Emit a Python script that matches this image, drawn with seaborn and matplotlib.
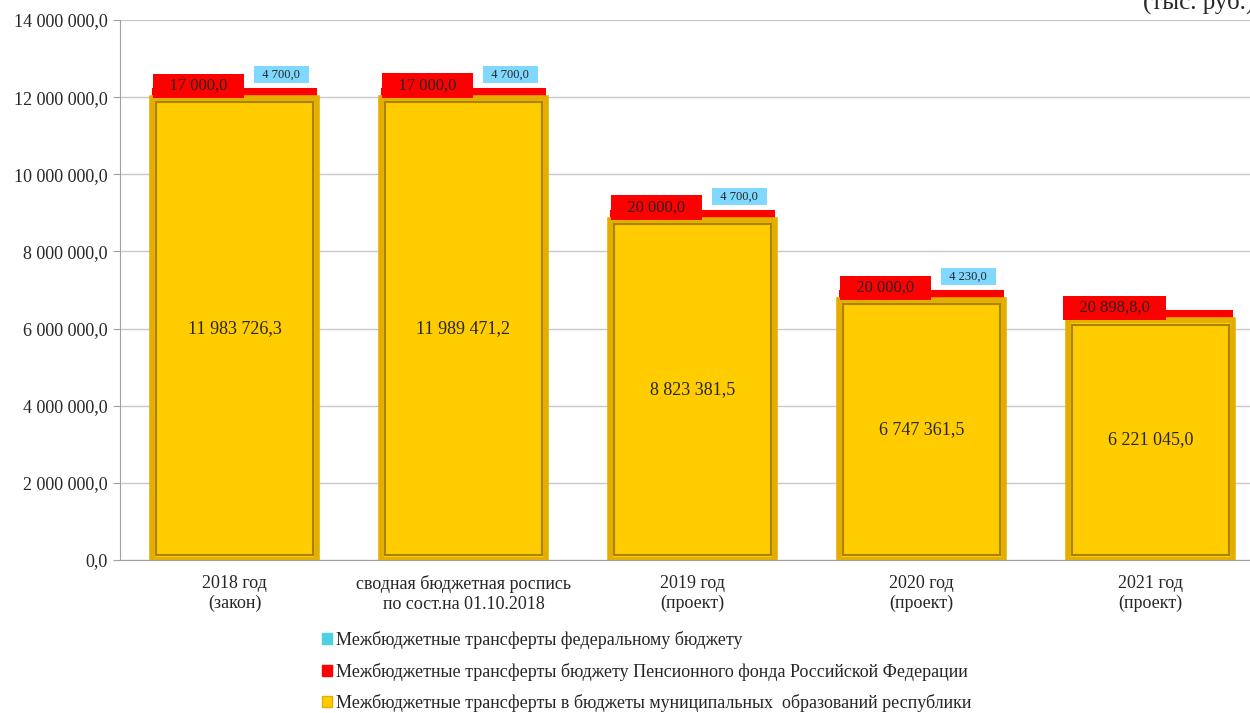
import numpy as np
import pandas as pd
import matplotlib.pyplot as plt
import seaborn as sns
from matplotlib.patches import Patch
from matplotlib.ticker import FuncFormatter

# Data (тыс. руб.)
categories = ['2018 год\n(закон)', 'сводная бюджетная роспись\nпо сост.на 01.10.2018',
              '2019 год\n(проект)', '2020 год\n(проект)', '2021 год\n(проект)']
municipal = [11983726.3, 11989471.2, 8823381.5, 6747361.5, 6221045.0]
pension = [17000.0, 17000.0, 20000.0, 20000.0, 20898.8]
federal = [4700.0, 4700.0, 4700.0, 4230.0, 0.0]
municipal_labels = ['11 983 726,3', '11 989 471,2', '8 823 381,5', '6 747 361,5', '6 221 045,0']
pension_labels = ['17 000,0', '17 000,0', '20 000,0', '20 000,0', '20 898,8,0']
federal_labels = ['4 700,0', '4 700,0', '4 700,0', '4 230,0', '']

YELLOW = '#FFCC00'
GOLD = '#E3AE00'
BEVEL = '#A88200'
RED = '#FF0000'
CYAN = '#4DD0E1'
CYAN_BOX = '#80D8FF'

sns.set_style('white')
plt.rcParams['font.family'] = ['Liberation Serif', 'DejaVu Serif']

df = pd.DataFrame({'cat': categories, 'municipal': municipal})

fig = plt.figure(figsize=(12.5, 7.13), dpi=100)
ax = fig.add_axes([0.096, 0.2146, 0.916, 0.7574])

bw = 0.72
x = np.arange(len(categories))

# red segment (tiny value, drawn with a thick outline so it is visible)
ax.bar(x, pension, bottom=municipal, width=bw - 0.08, color=RED, edgecolor=RED,
       linewidth=13, zorder=2)

sns.barplot(data=df, x='cat', y='municipal', color=YELLOW, width=bw, ax=ax,
            edgecolor=GOLD, linewidth=4, saturation=1, zorder=3)

# inner bevel line of the 3D-looking bars
inset = 120000
ax.bar(x, np.array(municipal) - 2 * inset, bottom=inset, width=bw - 0.035,
       fill=False, edgecolor=BEVEL, linewidth=1.5, zorder=4)

for i in range(len(categories)):
    ax.text(x[i], municipal[i] / 2, municipal_labels[i], ha='center', va='center',
            fontsize=13, zorder=5)
    ax.text(x[i] - 0.157, municipal[i] + 311000, '   ' + pension_labels[i] + '   ',
            ha='center', va='center', fontsize=12, zorder=5,
            bbox=dict(boxstyle='square,pad=0.25', fc=RED, ec='none'))
    if federal_labels[i]:
        ax.text(x[i] + 0.205, municipal[i] + 600000, '  ' + federal_labels[i] + '  ',
                ha='center', va='center', fontsize=9, zorder=5,
                bbox=dict(boxstyle='square,pad=0.2', fc=CYAN_BOX, ec='none'))

ax.set_ylim(0, 14000000)
ax.set_xlim(-0.5, len(categories) - 0.5)
ax.set_yticks(np.arange(0, 14000001, 2000000))
ax.yaxis.set_major_formatter(FuncFormatter(
    lambda v, p: f'{v:,.1f}'.replace(',', ' ').replace('.', ',')))
ax.yaxis.grid(True, color='#C8C8C8', linewidth=1)
ax.set_axisbelow(True)
ax.set_xlabel('')
ax.set_ylabel('')
ax.tick_params(axis='y', labelsize=13, length=5, color='#A0A0A0', left=True, pad=4)
ax.tick_params(axis='x', labelsize=13, length=0, pad=11)
for s in ['top', 'right']:
    ax.spines[s].set_visible(False)
for s in ['left', 'bottom']:
    ax.spines[s].set_color('#A0A0A0')

fig.text(0.9144, 0.988, '(тыс. руб.)', fontsize=18, ha='left', va='baseline')

handles = [Patch(facecolor=CYAN, edgecolor=CYAN),
           Patch(facecolor=RED, edgecolor=RED),
           Patch(facecolor=YELLOW, edgecolor=GOLD)]
labels = ['Межбюджетные трансферты федеральному бюджету',
          'Межбюджетные трансферты бюджету Пенсионного фонда Российской Федерации',
          'Межбюджетные трансферты в бюджеты муниципальных  образований республики']
fig.legend(handles, labels, loc='upper left', bbox_to_anchor=(0.252, 0.125),
           frameon=False, fontsize=13, handlelength=0.55, handleheight=0.55,
           handletextpad=0.2, labelspacing=0.75, borderaxespad=0)

fig.savefig('out.png', dpi=100)
